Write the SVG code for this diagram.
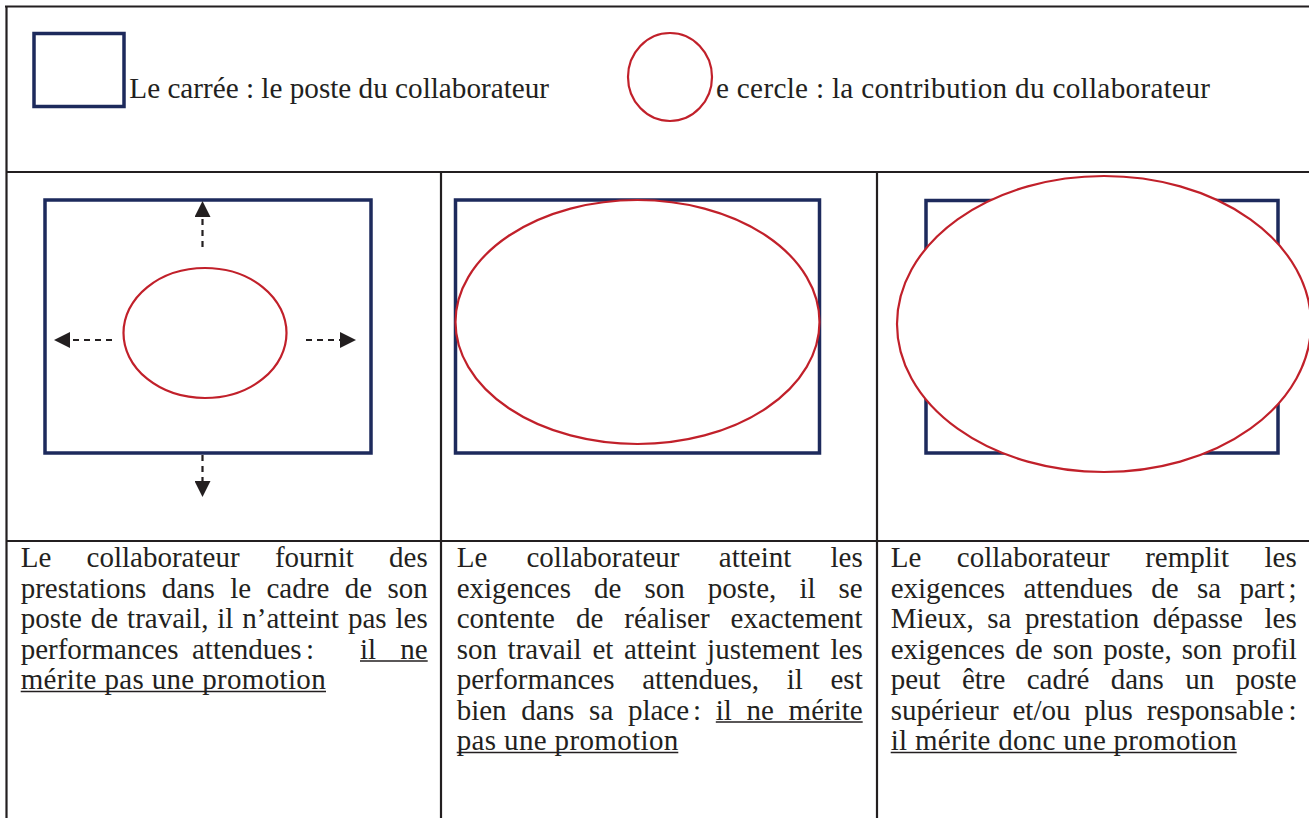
<svg xmlns="http://www.w3.org/2000/svg" width="1309" height="818" viewBox="0 0 1309 818">
<style>
.grid{stroke:#231f20;stroke-width:2.2;fill:none}
.sq{fill:none;stroke:#1d2a5c;stroke-width:3.5}
.el{fill:#ffffff;stroke:#c1202a;stroke-width:2.2}
.lg{font-family:"Liberation Serif","Times New Roman",serif;font-size:29.2px;fill:#231f20}
.tx{font-family:"Liberation Serif","Times New Roman",serif;font-size:29px;fill:#231f20}
.ul{stroke:#231f20;stroke-width:1.4}
.arr{stroke:#231f20;stroke-width:2.2;stroke-dasharray:6 5;fill:none;marker-end:url(#ah)}
</style>
<defs>
<marker id="ah" viewBox="0 0 16 16" markerWidth="16" markerHeight="16" refX="0" refY="8" orient="auto" markerUnits="userSpaceOnUse">
<path d="M0,0 L16,8 L0,16 z" fill="#231f20"/>
</marker>
</defs>
<rect width="1309" height="818" fill="#ffffff"/>
<g id="table">
<line class="grid" x1="5" y1="6.5" x2="1309" y2="6.5"/>
<line class="grid" x1="6.5" y1="6" x2="6.5" y2="818"/>
<line class="grid" x1="6" y1="172" x2="1309" y2="172"/>
<line class="grid" x1="6" y1="541" x2="1309" y2="541"/>
<line class="grid" x1="441" y1="172" x2="441" y2="818"/>
<line class="grid" x1="877" y1="172" x2="877" y2="818"/>
</g>
<g id="legend">
<rect class="sq" x="34" y="33.5" width="90" height="73"/>
<text class="lg" x="129.3" y="98.3">Le carrée : le poste du collaborateur</text>
<text class="lg" x="716" y="98.3" textLength="494" lengthAdjust="spacing">e cercle : la contribution du collaborateur</text>
<ellipse class="el" cx="670" cy="77" rx="42" ry="44" fill="none" style="fill:none"/>
</g>
<g id="panel1">
<rect class="sq" x="45" y="200" width="326" height="253"/>
<ellipse class="el" cx="205" cy="333" rx="81.5" ry="65"/>
</g>
<g id="panel2">
<rect class="sq" x="455.5" y="200" width="364" height="253"/>
<ellipse class="el" cx="637.5" cy="322" rx="182" ry="122"/>
</g>
<g id="panel3">
<rect class="sq" x="926" y="200.5" width="352" height="252.5"/>
<ellipse class="el" cx="1104" cy="324" rx="207" ry="148"/>
</g>
<g id="connectors">
<line class="arr" x1="202.5" y1="247" x2="202.5" y2="217"/>
<line class="arr" x1="202.5" y1="455" x2="202.5" y2="481"/>
<line class="arr" x1="112" y1="340" x2="70" y2="340"/>
<line class="arr" x1="306" y1="340" x2="340" y2="340"/>
</g>
<g id="cell1">
<text class="tx" y="567"><tspan x="20.7">Le</tspan><tspan x="86.6">collaborateur</tspan><tspan x="274.9">fournit</tspan><tspan x="389.1">des</tspan></text>
<text class="tx" y="597.5"><tspan x="20.7">prestations</tspan><tspan x="161.7">dans</tspan><tspan x="230.3">le</tspan><tspan x="266.5">cadre</tspan><tspan x="344.7">de</tspan><tspan x="387.4">son</tspan></text>
<text class="tx" y="628"><tspan x="20.7">poste</tspan><tspan x="90.8">de</tspan><tspan x="127.1">travail,</tspan><tspan x="217.3">il</tspan><tspan x="242.3">n’atteint</tspan><tspan x="347.9">pas</tspan><tspan x="395.5">les</tspan></text>
<text class="tx" y="658.5"><tspan x="20.7">performances</tspan><tspan x="192">attendues</tspan><tspan x="306">:</tspan><tspan x="360">il</tspan><tspan x="400.3">ne</tspan></text>
<text class="tx" x="20.7" y="689" textLength="305" lengthAdjust="spacing">mérite pas une promotion</text>
<line class="ul" x1="360" y1="661" x2="427.7" y2="661"/>
<line class="ul" x1="20.7" y1="691.5" x2="326" y2="691.5"/>
</g>
<g id="cell2">
<text class="tx" y="567"><tspan x="456.7">Le</tspan><tspan x="526.5">collaborateur</tspan><tspan x="718.8">atteint</tspan><tspan x="830.5">les</tspan></text>
<text class="tx" y="597.5"><tspan x="456.7">exigences</tspan><tspan x="594">de</tspan><tspan x="644.5">son</tspan><tspan x="707.8">poste,</tspan><tspan x="799.4">il</tspan><tspan x="838.5">se</tspan></text>
<text class="tx" y="628"><tspan x="456.7">contente</tspan><tspan x="576">de</tspan><tspan x="624.3">réaliser</tspan><tspan x="730.6">exactement</tspan></text>
<text class="tx" y="658.5"><tspan x="456.7">son</tspan><tspan x="507.6">travail</tspan><tspan x="592.4">et</tspan><tspan x="623.9">atteint</tspan><tspan x="707.1">justement</tspan><tspan x="830.5">les</tspan></text>
<text class="tx" y="689"><tspan x="456.7">performances</tspan><tspan x="642.2">attendues,</tspan><tspan x="786.7">il</tspan><tspan x="830.5">est</tspan></text>
<text class="tx" y="719.5"><tspan x="456.7">bien</tspan><tspan x="521.2">dans</tspan><tspan x="589.1">sa</tspan><tspan x="627.9">place</tspan><tspan x="693.1">:</tspan><tspan x="715.8">il</tspan><tspan x="746.6">ne</tspan><tspan x="788.6">mérite</tspan></text>
<text class="tx" x="456.7" y="750" textLength="221.6" lengthAdjust="spacing">pas une promotion</text>
<line class="ul" x1="715.8" y1="722" x2="862.7" y2="722"/>
<line class="ul" x1="456.7" y1="752.5" x2="678.3" y2="752.5"/>
</g>
<g id="cell3">
<text class="tx" y="567"><tspan x="890.7">Le</tspan><tspan x="956.8">collaborateur</tspan><tspan x="1145.2">remplit</tspan><tspan x="1264.5">les</tspan></text>
<text class="tx" y="597.5"><tspan x="890.7">exigences</tspan><tspan x="1023.4">attendues</tspan><tspan x="1151.2">de</tspan><tspan x="1197">sa</tspan><tspan x="1239.5">part</tspan><tspan x="1288.6">;</tspan></text>
<text class="tx" y="628"><tspan x="890.7">Mieux,</tspan><tspan x="987.2">sa</tspan><tspan x="1024.9">prestation</tspan><tspan x="1152.8">dépasse</tspan><tspan x="1264.5">les</tspan></text>
<text class="tx" y="658.5"><tspan x="890.7">exigences</tspan><tspan x="1015.2">de</tspan><tspan x="1052.7">son</tspan><tspan x="1103.2">poste,</tspan><tspan x="1181.8">son</tspan><tspan x="1232.3">profil</tspan></text>
<text class="tx" y="689"><tspan x="890.7">peut</tspan><tspan x="961.9">être</tspan><tspan x="1026.7">cadré</tspan><tspan x="1110.7">dans</tspan><tspan x="1185.2">un</tspan><tspan x="1235.5">poste</tspan></text>
<text class="tx" y="719.5"><tspan x="890.7">supérieur</tspan><tspan x="1012.5">et/ou</tspan><tspan x="1084.5">plus</tspan><tspan x="1146.7">responsable</tspan><tspan x="1288.6">:</tspan></text>
<text class="tx" x="890.7" y="750" textLength="346" lengthAdjust="spacing">il mérite donc une promotion</text>
<line class="ul" x1="890.7" y1="752.5" x2="1236.7" y2="752.5"/>
</g>
</svg>
